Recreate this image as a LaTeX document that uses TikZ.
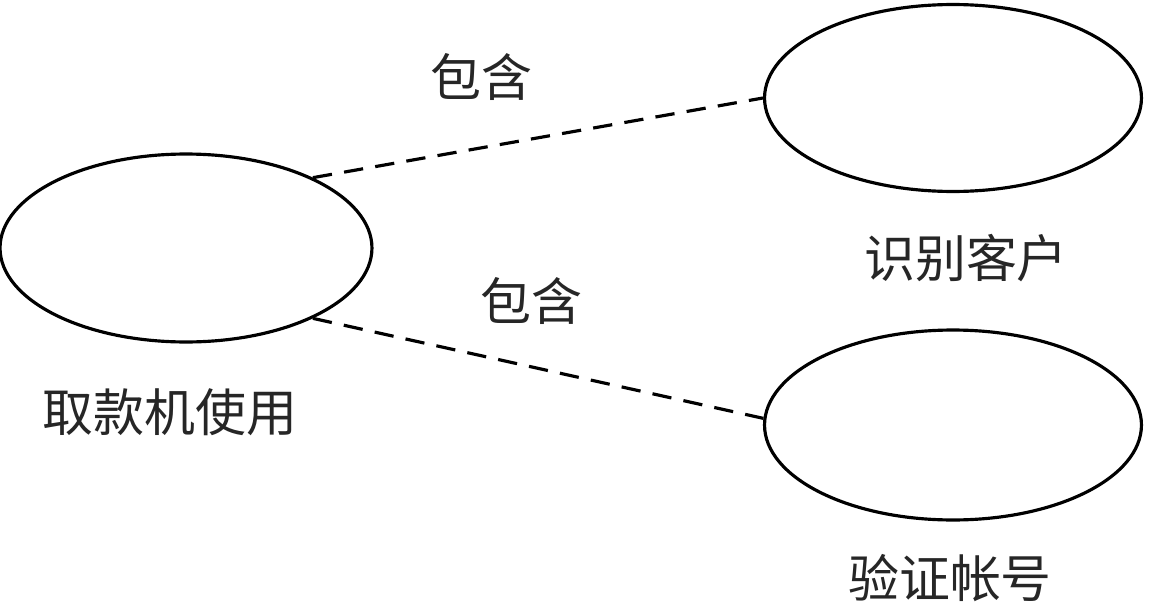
\documentclass[tikz,border=0pt]{standalone}
\usepackage{fontspec}
\newfontfamily\cjk{Noto Sans CJK SC}
\usetikzlibrary{shapes.geometric}

\begin{document}
\begin{tikzpicture}[
    x=0.02cm, y=-0.02cm,
    usecase/.style={ellipse, draw=black, line width=1.8pt, inner sep=0pt},
    lbl/.style={font=\cjk\fontsize{29}{33}\selectfont, text=black!85},
    incl/.style={draw=black, line width=1.8pt, dash pattern=on 11pt off 7pt}
]
\useasboundingbox (0,0) rectangle (1150,605);

% use cases
\node[usecase, minimum width=7.44cm, minimum height=3.76cm] (atm) at (186,248) {};
\node[usecase, minimum width=7.54cm, minimum height=3.74cm] (ident) at (953,98) {};
\node[usecase, minimum width=7.54cm, minimum height=3.8cm] (verify) at (953,425) {};

% names
\node[lbl] (atmname) at (170,412) {取款机使用};
\node[lbl] (identname) at (966,258) {识别客户};
\node[lbl] (verifyname) at (950,578) {验证帐号};

% include relations
\draw[incl] (atm.29) -- (ident.west);
\draw[incl] (atm.-29) -- (verify.178);
\node[lbl] (inc1) at (481,77) {包含};
\node[lbl] (inc2) at (531,301) {包含};
\end{tikzpicture}
\end{document}
